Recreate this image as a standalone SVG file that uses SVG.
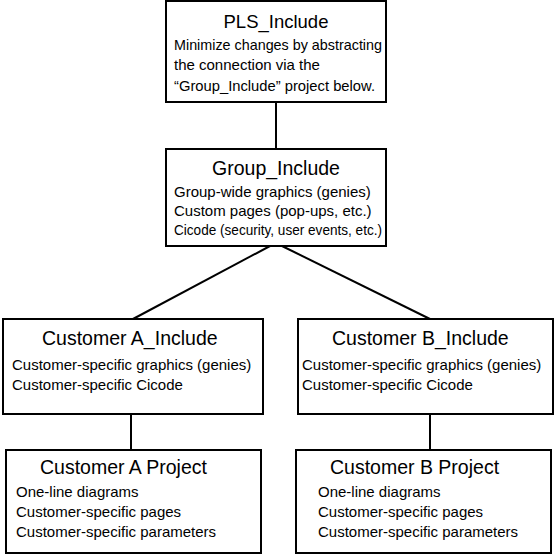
<svg xmlns="http://www.w3.org/2000/svg" width="555" height="555" viewBox="0 0 555 555">
<style>
.box{fill:#fff;stroke:#000;stroke-width:2}
.t{font-family:"Liberation Sans","Open Sans",Arial,sans-serif;font-size:19.5px;fill:#000}
.b{font-family:"Liberation Sans","Open Sans",Arial,sans-serif;font-size:15px;fill:#000}
.c{stroke:#000;stroke-width:2;fill:none}
</style>
<rect width="555" height="555" fill="#fff"/>
<g id="connectors">
<line class="c" x1="270" y1="246" x2="133" y2="319"/>
<line class="c" x1="282" y1="246" x2="430" y2="319"/>
<line class="c" x1="276" y1="102" x2="276" y2="149"/>
<line class="c" x1="131" y1="414" x2="131" y2="450"/>
<line class="c" x1="430" y1="414" x2="430" y2="450"/>
</g>
<g id="pls">
<rect class="box" x="166" y="1" width="220" height="101"/>
<text class="t" x="276" y="28" text-anchor="middle" style="font-size:18.5px">PLS_Include</text>
<text class="b" x="174" y="50" textLength="208" lengthAdjust="spacingAndGlyphs">Minimize changes by abstracting</text>
<text class="b" x="174" y="70">the connection via the</text>
<text class="b" x="174" y="91" textLength="201" lengthAdjust="spacingAndGlyphs">“Group_Include” project below.</text>
</g>
<g id="group">
<rect class="box" x="166" y="149" width="220" height="97"/>
<text class="t" x="276" y="175" text-anchor="middle">Group_Include</text>
<text class="b" x="174" y="197">Group-wide graphics (genies)</text>
<text class="b" x="174" y="216">Custom pages (pop-ups, etc.)</text>
<text class="b" x="174" y="235" textLength="208" lengthAdjust="spacingAndGlyphs">Cicode (security, user events, etc.)</text>
</g>
<g id="custA_inc">
<rect class="box" x="3" y="319" width="260" height="95"/>
<text class="t" x="42" y="345">Customer A_Include</text>
<text class="b" x="12" y="370">Customer-specific graphics (genies)</text>
<text class="b" x="12" y="390">Customer-specific Cicode</text>
</g>
<g id="custB_inc">
<rect class="box" x="298" y="319" width="255" height="95"/>
<text class="t" x="332" y="345">Customer B_Include</text>
<text class="b" x="302" y="370">Customer-specific graphics (genies)</text>
<text class="b" x="302" y="390">Customer-specific Cicode</text>
</g>
<g id="custA_proj">
<rect class="box" x="6" y="450" width="255" height="103"/>
<text class="t" x="40" y="474">Customer A Project</text>
<text class="b" x="16" y="497">One-line diagrams</text>
<text class="b" x="16" y="517">Customer-specific pages</text>
<text class="b" x="16" y="537">Customer-specific parameters</text>
</g>
<g id="custB_proj">
<rect class="box" x="296" y="450" width="255" height="103"/>
<text class="t" x="330" y="474">Customer B Project</text>
<text class="b" x="318" y="497">One-line diagrams</text>
<text class="b" x="318" y="517">Customer-specific pages</text>
<text class="b" x="318" y="537">Customer-specific parameters</text>
</g>
</svg>
